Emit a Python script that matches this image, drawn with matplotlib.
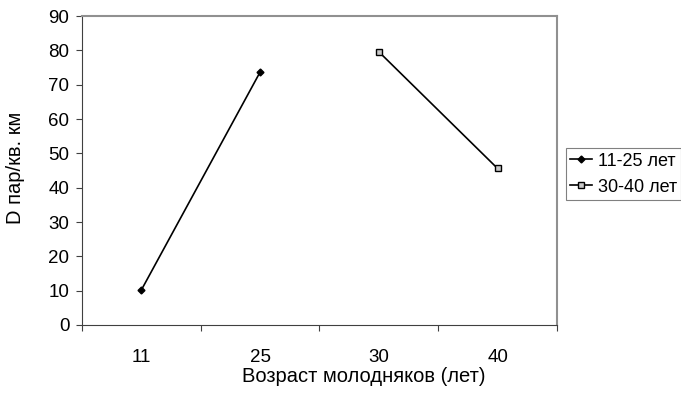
import matplotlib.pyplot as plt
import numpy as np

plt.rcParams['font.family'] = ['Liberation Sans', 'DejaVu Sans']

# categories on the x axis
ages = ['11', '25', '30', '40']
# series values (None where the series has no point)
young = [10.2, 73.7, None, None]
older = [None, None, 79.6, 45.6]

x = np.arange(len(ages))

fig = plt.figure(figsize=(6.81, 3.97), dpi=100)
ax = fig.add_axes([0.1204, 0.1814, 0.6975, 0.778])

y1 = np.array([np.nan if v is None else v for v in young])
y2 = np.array([np.nan if v is None else v for v in older])

ax.plot(x, y1, color='black', lw=1.2, marker='D', ms=3.5,
        mfc='black', mec='black', label='11-25 лет')
ax.plot(x, y2, color='black', lw=1.2, marker='s', ms=4.5,
        mfc='#c8c8c8', mec='black', mew=1, label='30-40 лет')

ax.set_xlim(-0.5, len(ages) - 0.5)
ax.set_ylim(0, 90)
ax.set_yticks(range(0, 91, 10))
ax.set_xticks(np.arange(-0.5, len(ages), 1.0))
ax.set_xticklabels([])
ax.set_xticks(x, minor=True)
ax.set_xticklabels(ages, minor=True)
ax.tick_params(axis='x', which='minor', length=0, pad=17, labelsize=13.5)
ax.tick_params(axis='x', which='major', length=4, direction='out', color='#404040')
ax.tick_params(axis='y', length=4, direction='out', pad=5, labelsize=13.5, color='#404040')

for side in ['left', 'bottom']:
    ax.spines[side].set_color('#404040')
for side in ['top', 'right']:
    ax.spines[side].set_color('#909090')
    ax.spines[side].set_linewidth(1.5)

ax.set_xlabel('Возраст молодняков (лет)', fontsize=14.5)
ax.xaxis.set_label_coords(0.594, -0.135)
ax.set_ylabel('D пар/кв. км', fontsize=14.5)
ax.yaxis.set_label_coords(-0.12, 0.51)

leg = fig.legend(loc='upper left', bbox_to_anchor=(0.831, 0.627),
                 frameon=True, fancybox=False, fontsize=13,
                 handlelength=1.2, handletextpad=0.3, borderpad=0.25,
                 labelspacing=0.5, borderaxespad=0)
leg.get_frame().set_edgecolor('#606060')
leg.get_frame().set_linewidth(0.8)

fig.savefig('out.png', dpi=100)
